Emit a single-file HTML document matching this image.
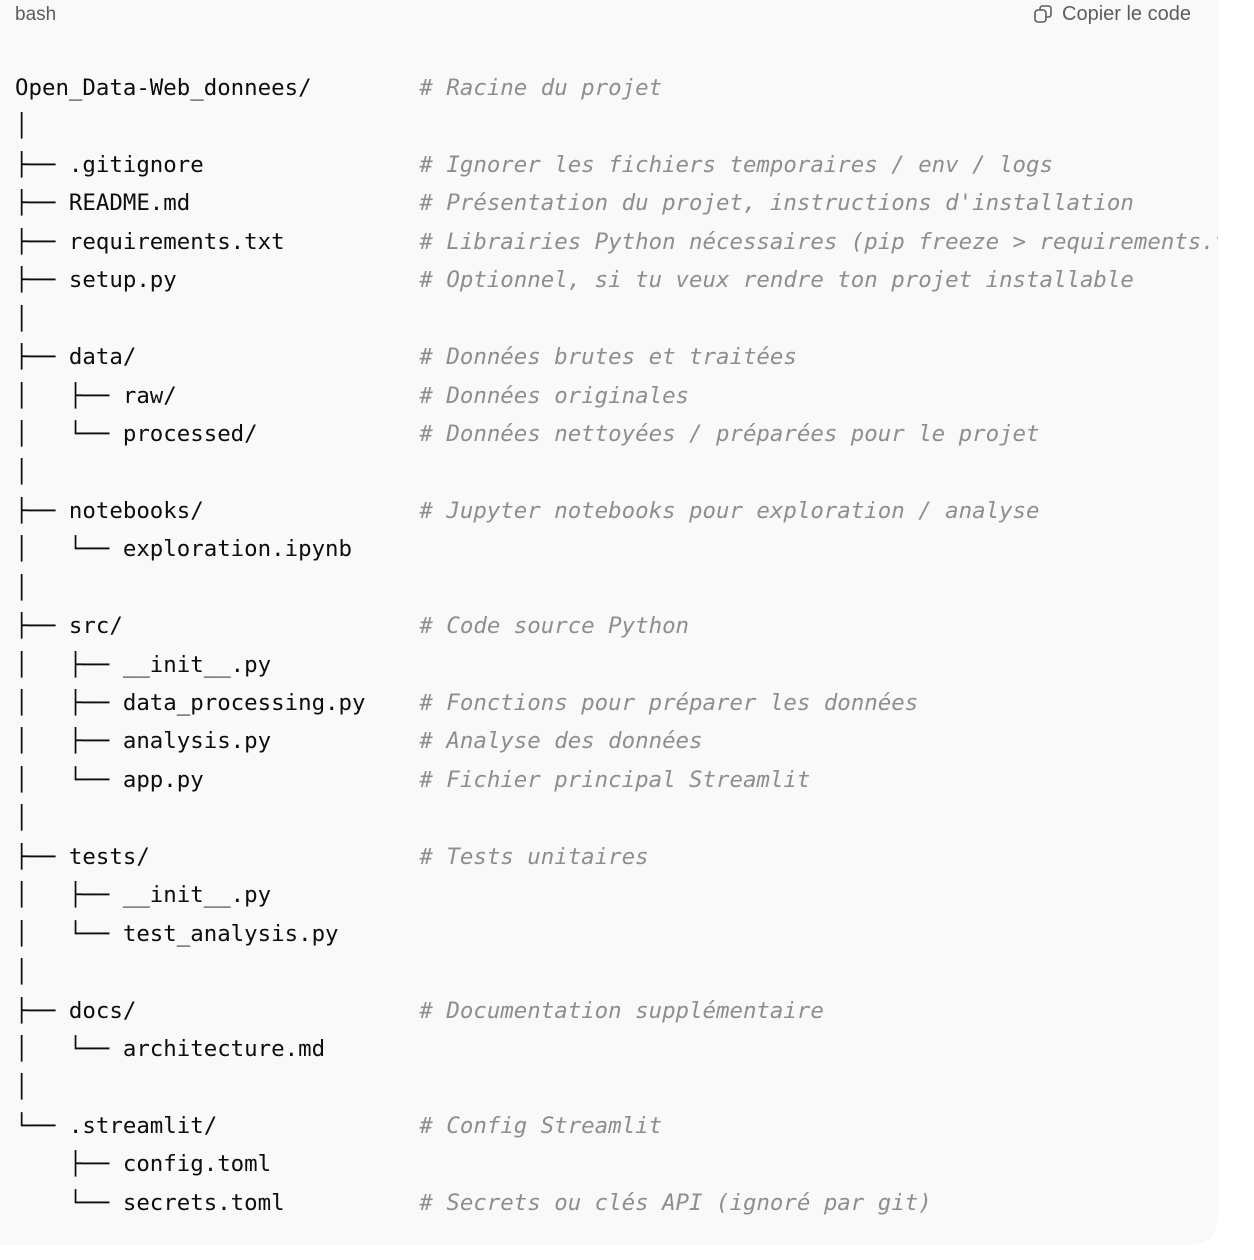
<!DOCTYPE html>
<html><head><meta charset="utf-8"><style>
html,body{margin:0;padding:0;background:#fff;width:1254px;height:1260px;overflow:hidden}
.panel{position:absolute;left:0;top:-30px;width:1218px;height:1275px;background:#f9f9f9;border-radius:0 26px 26px 0;overflow:hidden}
.hdr{position:absolute;left:15px;top:4px;font:19px "Liberation Sans",sans-serif;color:#5d5d5d}
.copy{position:absolute;left:1062px;top:3px;font:20px "Liberation Sans",sans-serif;color:#5d5d5d}
.icon{position:absolute;left:1033px;top:4px;width:20px;height:20px}
.code{position:absolute;left:15px;top:69px;margin:0;font-family:"DejaVu Sans Mono","Liberation Mono",monospace;font-size:22.4px;color:#0d0d0d}
.code div{height:38.45px;line-height:38.45px;white-space:pre;overflow:visible}
.code span.c{color:#8e8e8e;font-style:italic}
.clip{position:absolute;left:0;top:0;width:1218px;height:1245px;overflow:hidden}
</style></head><body>
<div class="panel"></div>
<div class="clip">
<div class="hdr">bash</div>
<svg class="icon" viewBox="0 0 20 20" fill="none" stroke="#5d5d5d" stroke-width="1.6"><rect x="2" y="6" width="11" height="12" rx="3"/><path d="M7 6V4.5A2.5 2.5 0 0 1 9.5 2h6A2.5 2.5 0 0 1 18 4.5v6a2.5 2.5 0 0 1-2.5 2.5H13"/></svg>
<div class="copy">Copier le code</div>
<div class="code">
<div>Open_Data-Web_donnees/        <span class="c"># Racine du projet</span></div>
<div>│</div>
<div>├── .gitignore                <span class="c"># Ignorer les fichiers temporaires / env / logs</span></div>
<div>├── README.md                 <span class="c"># Présentation du projet, instructions d'installation</span></div>
<div>├── requirements.txt          <span class="c"># Librairies Python nécessaires (pip freeze &gt; requirements.txt)</span></div>
<div>├── setup.py                  <span class="c"># Optionnel, si tu veux rendre ton projet installable</span></div>
<div>│</div>
<div>├── data/                     <span class="c"># Données brutes et traitées</span></div>
<div>│   ├── raw/                  <span class="c"># Données originales</span></div>
<div>│   └── processed/            <span class="c"># Données nettoyées / préparées pour le projet</span></div>
<div>│</div>
<div>├── notebooks/                <span class="c"># Jupyter notebooks pour exploration / analyse</span></div>
<div>│   └── exploration.ipynb</div>
<div>│</div>
<div>├── src/                      <span class="c"># Code source Python</span></div>
<div>│   ├── __init__.py</div>
<div>│   ├── data_processing.py    <span class="c"># Fonctions pour préparer les données</span></div>
<div>│   ├── analysis.py           <span class="c"># Analyse des données</span></div>
<div>│   └── app.py                <span class="c"># Fichier principal Streamlit</span></div>
<div>│</div>
<div>├── tests/                    <span class="c"># Tests unitaires</span></div>
<div>│   ├── __init__.py</div>
<div>│   └── test_analysis.py</div>
<div>│</div>
<div>├── docs/                     <span class="c"># Documentation supplémentaire</span></div>
<div>│   └── architecture.md</div>
<div>│</div>
<div>└── .streamlit/               <span class="c"># Config Streamlit</span></div>
<div>    ├── config.toml</div>
<div>    └── secrets.toml          <span class="c"># Secrets ou clés API (ignoré par git)</span></div>
</div>
</div>
</body></html>
